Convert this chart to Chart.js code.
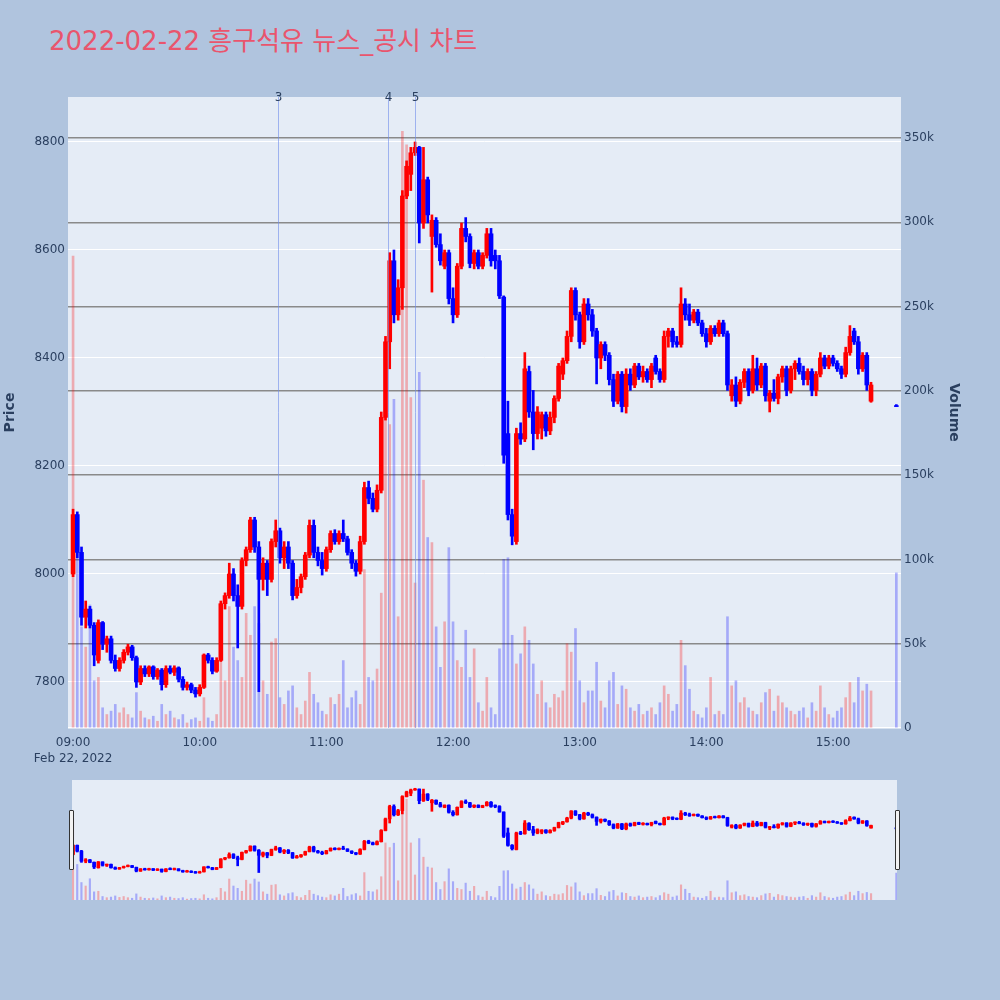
<!DOCTYPE html>
<html><head><meta charset="utf-8">
<script src="https://cdn.jsdelivr.net/npm/chart.js@4.4.1/dist/chart.umd.min.js"></script>
<style>
html,body{margin:0;padding:0;background:#b0c4de;width:1000px;height:1000px;overflow:hidden;}
#title{position:absolute;left:49px;top:26px;font-size:26px;line-height:30px;font-family:"DejaVu Sans","Noto Sans CJK KR",sans-serif;color:#e9556d;white-space:nowrap;}
#main{position:absolute;left:0;top:0;}
#slider{position:absolute;left:72px;top:780px;}
.handle{position:absolute;top:810px;width:3px;height:58px;background:#f2f2f2;border:1px solid #333;border-radius:1px;}
</style></head>
<body>
<div id="title">2022-02-22 흥구석유 뉴스_공시 차트</div>
<canvas id="main" width="962" height="780" style="width:962px;height:780px"></canvas>
<canvas id="slider" width="825" height="120" style="width:825px;height:120px"></canvas>
<div class="handle" style="left:69px"></div>
<div class="handle" style="left:895px"></div>
<script>
// ---- data ----
const times = [
"09:00","09:02","09:04","09:06","09:08","09:10","09:12","09:14","09:16","09:18",
"09:20","09:22","09:24","09:26","09:28","09:30","09:32","09:34","09:36","09:38",
"09:40","09:42","09:44","09:46","09:48","09:50","09:52","09:54","09:56","09:58",
"10:00","10:02","10:04","10:06","10:08","10:10","10:12","10:14","10:16","10:18",
"10:20","10:22","10:24","10:26","10:28","10:30","10:32","10:34","10:36","10:38",
"10:40","10:42","10:44","10:46","10:48","10:50","10:52","10:54","10:56","10:58",
"11:00","11:02","11:04","11:06","11:08","11:10","11:12","11:14","11:16","11:18",
"11:20","11:22","11:24","11:26","11:28","11:30","11:32","11:34","11:36","11:38",
"11:40","11:42","11:44","11:46","11:48","11:50","11:52","11:54","11:56","11:58",
"12:00","12:02","12:04","12:06","12:08","12:10","12:12","12:14","12:16","12:18",
"12:20","12:22","12:24","12:26","12:28","12:30","12:32","12:34","12:36","12:38",
"12:40","12:42","12:44","12:46","12:48","12:50","12:52","12:54","12:56","12:58",
"13:00","13:02","13:04","13:06","13:08","13:10","13:12","13:14","13:16","13:18",
"13:20","13:22","13:24","13:26","13:28","13:30","13:32","13:34","13:36","13:38",
"13:40","13:42","13:44","13:46","13:48","13:50","13:52","13:54","13:56","13:58",
"14:00","14:02","14:04","14:06","14:08","14:10","14:12","14:14","14:16","14:18",
"14:20","14:22","14:24","14:26","14:28","14:30","14:32","14:34","14:36","14:38",
"14:40","14:42","14:44","14:46","14:48","14:50","14:52","14:54","14:56","14:58",
"15:00","15:02","15:04","15:06","15:08","15:10","15:12","15:14","15:16","15:18",
"15:30"];
const open = [
8000,8110,8040,7920,7935,7905,7840,7910,7870,7880,
7840,7825,7840,7855,7865,7845,7800,7825,7815,7828,
7810,7822,7795,7825,7818,7826,7805,7790,7795,7785,
7778,7790,7850,7840,7820,7840,7945,7960,8000,7960,
7940,8025,8045,8100,8050,7990,8020,7990,8060,8080,
8030,8050,8020,7960,7975,7995,8035,8090,8040,8025,
8010,8045,8075,8060,8075,8065,8040,8020,8005,8060,
8160,8140,8120,8155,8290,8430,8580,8480,8530,8700,
8740,8780,8790,8650,8730,8625,8655,8610,8570,8595,
8510,8480,8570,8640,8625,8575,8595,8570,8590,8630,
8590,8580,8513,8260,8110,8060,8260,8250,8375,8300,
8260,8270,8295,8265,8290,8325,8370,8395,8440,8525,
8480,8430,8500,8480,8450,8400,8425,8405,8360,8320,
8370,8310,8370,8350,8385,8365,8375,8360,8400,8375,
8360,8440,8450,8430,8425,8500,8480,8470,8485,8465,
8445,8430,8455,8445,8465,8445,8330,8350,8320,8355,
8375,8340,8380,8350,8385,8320,8335,8325,8365,8380,
8340,8380,8390,8375,8360,8375,8340,8370,8400,8385,
8400,8390,8380,8370,8410,8450,8430,8380,8405,8320,
8310];
const high = [
8120,8115,8050,7950,7940,7910,7915,7912,7885,7885,
7850,7845,7860,7870,7868,7848,7830,7830,7830,7830,
7825,7825,7830,7830,7830,7828,7810,7800,7798,7790,
7795,7852,7853,7845,7845,7950,7965,8020,8010,7980,
8030,8050,8105,8105,8060,8030,8025,8065,8100,8085,
8060,8060,8025,7990,8000,8040,8100,8100,8050,8040,
8050,8080,8082,8080,8100,8070,8045,8025,8070,8170,
8172,8150,8165,8300,8440,8595,8600,8545,8710,8765,
8790,8800,8792,8790,8735,8665,8660,8630,8600,8600,
8530,8575,8650,8660,8630,8600,8600,8595,8640,8640,
8600,8590,8515,8320,8120,8270,8280,8410,8385,8340,
8310,8300,8300,8300,8330,8390,8400,8450,8530,8530,
8485,8510,8510,8490,8455,8430,8430,8410,8370,8375,
8375,8380,8380,8390,8390,8385,8380,8390,8405,8380,
8450,8455,8455,8440,8530,8510,8500,8490,8490,8470,
8455,8460,8460,8470,8470,8450,8360,8365,8360,8380,
8380,8405,8400,8390,8390,8340,8360,8370,8385,8385,
8385,8395,8400,8385,8380,8380,8375,8410,8405,8405,
8405,8395,8385,8420,8460,8455,8440,8410,8410,8355,
8310];
const low = [
7995,8030,7905,7900,7900,7830,7835,7860,7855,7835,
7820,7820,7835,7850,7840,7790,7795,7810,7810,7805,
7805,7785,7790,7815,7812,7800,7785,7785,7780,7772,
7774,7788,7835,7815,7818,7838,7935,7955,7950,7863,
7935,8015,8040,8040,7782,7970,7960,7985,8050,8020,
8010,8010,7952,7955,7965,7990,8030,8030,8015,7998,
8005,8040,8055,8055,8060,8035,8010,7996,8000,8055,
8130,8115,8115,8150,8285,8380,8465,8470,8490,8695,
8710,8775,8613,8640,8650,8522,8605,8572,8565,8500,
8465,8475,8565,8615,8567,8565,8565,8565,8585,8570,
8565,8510,8205,8100,8054,8055,8240,8245,8290,8230,
8250,8250,8255,8258,8280,8320,8360,8390,8430,8470,
8418,8425,8470,8440,8352,8380,8395,8350,8310,8315,
8300,8298,8340,8345,8360,8355,8355,8345,8370,8355,
8355,8420,8420,8420,8420,8470,8460,8465,8460,8440,
8420,8425,8440,8440,8440,8340,8320,8310,8315,8345,
8330,8335,8340,8345,8320,8300,8320,8315,8355,8330,
8335,8360,8370,8350,8350,8330,8330,8365,8380,8380,
8385,8375,8362,8365,8405,8425,8370,8375,8340,8318,
8310];
const close = [
8110,8040,7920,7935,7905,7850,7910,7870,7880,7840,
7825,7840,7855,7865,7845,7800,7825,7815,7828,7810,
7822,7795,7825,7818,7826,7805,7790,7795,7785,7778,
7790,7850,7840,7820,7840,7945,7960,8000,7960,7940,
8025,8045,8100,8050,7990,8020,7990,8060,8080,8030,
8050,8020,7960,7975,7995,8035,8090,8040,8025,8010,
8045,8075,8060,8075,8065,8040,8020,8005,8060,8160,
8140,8120,8155,8290,8430,8580,8480,8530,8700,8755,
8780,8790,8650,8730,8665,8655,8610,8580,8595,8510,
8480,8570,8640,8625,8575,8595,8570,8590,8630,8580,
8580,8515,8220,8110,8070,8260,8250,8380,8300,8260,
8300,8295,8265,8290,8325,8385,8395,8440,8525,8480,
8430,8500,8480,8450,8400,8425,8405,8360,8320,8370,
8310,8370,8350,8385,8365,8375,8360,8385,8375,8360,
8440,8450,8430,8425,8500,8480,8470,8485,8465,8445,
8430,8455,8445,8465,8445,8350,8350,8320,8355,8375,
8340,8380,8350,8385,8330,8335,8325,8365,8380,8340,
8380,8390,8375,8360,8375,8340,8370,8400,8385,8400,
8390,8380,8370,8410,8440,8430,8380,8405,8350,8350,
8310];
const volumeK = [
280,122,60,48,73,28,30,12,8,10,
14,9,12,8,6,21,10,6,5,7,
4,14,8,10,6,5,8,3,5,6,
4,18,6,4,8,40,28,72,48,40,
30,68,55,72,62,28,20,51,53,18,
14,22,25,12,8,16,33,20,15,10,
8,18,14,20,40,12,18,22,14,94,
30,28,35,80,196,180,195,66,354,346,
196,86,211,147,113,110,60,36,63,107,
63,40,36,58,30,47,15,10,30,12,
8,47,100,101,55,38,44,60,52,38,
20,28,15,12,20,18,22,50,45,59,
28,15,22,22,39,16,12,28,33,14,
25,23,12,10,14,8,10,12,8,15,
25,20,10,14,52,37,23,10,8,6,
12,30,8,10,8,66,25,28,15,18,
12,10,8,15,21,23,10,19,15,12,
10,8,10,12,6,15,10,25,12,8,
6,10,12,18,27,15,30,22,26,22,
92];
const priceTicks = [7800, 8000, 8200, 8400, 8600, 8800];
const volumeTicks = [0, 50, 100, 150, 200, 250, 300, 350];
const volumeTickLabels = ["0", "50k", "100k", "150k", "200k", "250k", "300k", "350k"];
const timeTicks = ["09:00", "10:00", "11:00", "12:00", "13:00", "14:00", "15:00"];
const dateLabel = "Feb 22, 2022";
const newsTimes = ["10:37", "11:29", "11:42"];
const newsLabels = ["3", "4", "5"];

// ---- helpers ----
const FONT = "'DejaVu Sans', 'Noto Sans CJK KR', sans-serif";
const TXT = '#2a3f5f';
const RED = '#ff0000', BLUE = '#0000ff';
const toMin = s => { const p = s.split(':').map(Number); return (p[0] - 9) * 60 + p[1]; };
const tx = times.map(toMin);
const isUp = i => close[i] > open[i];

function makeSets(bodyW, wickW, volW) {
  return [
    { type: 'bar', label: 'body', yAxisID: 'y', order: 1, grouped: false,
      data: tx.map((x, i) => ({ x: x, y: [open[i], close[i]] })),
      backgroundColor: c => isUp(c.dataIndex) ? RED : BLUE,
      barThickness: bodyW, minBarLength: 1 },
    { type: 'bar', label: 'wick', yAxisID: 'y', order: 2, grouped: false,
      data: tx.map((x, i) => ({ x: x, y: [low[i], high[i]] })),
      backgroundColor: c => isUp(c.dataIndex) ? RED : BLUE,
      barThickness: wickW, minBarLength: 2 },
    { type: 'bar', label: 'volume', yAxisID: 'yv', order: 3, grouped: false,
      data: tx.map((x, i) => ({ x: x, y: volumeK[i] })),
      backgroundColor: c => isUp(c.dataIndex) ? 'rgba(255,0,0,0.28)' : 'rgba(0,0,255,0.28)',
      barThickness: volW }
  ];
}

const bgPlugin = { id: 'plotbg', beforeDraw(c) {
  const a = c.chartArea, ctx = c.ctx;
  ctx.save(); ctx.fillStyle = '#e5ecf6';
  ctx.fillRect(a.left, a.top, a.right - a.left, a.bottom - a.top); ctx.restore();
}};

const newsPlugin = { id: 'news', afterDatasetsDraw(c) {
  const a = c.chartArea, ctx = c.ctx, xs = c.scales.x;
  ctx.save();
  newsTimes.forEach((t, i) => {
    const px = Math.round(xs.getPixelForValue(toMin(t))) + 0.5;
    ctx.strokeStyle = 'rgba(110,140,235,0.6)'; ctx.lineWidth = 1;
    ctx.beginPath(); ctx.moveTo(px, a.top); ctx.lineTo(px, a.bottom); ctx.stroke();
    ctx.fillStyle = TXT; ctx.font = '12px ' + FONT;
    ctx.textAlign = 'center'; ctx.textBaseline = 'alphabetic';
    ctx.fillText(newsLabels[i], px, a.top + 4);
  });
  ctx.restore();
}};

const tickFont = { family: FONT, size: 12 };

new Chart(document.getElementById('main'), {
  type: 'bar',
  data: { datasets: makeSets(4, 2, 2) },
  options: {
    responsive: false, animation: false, events: [],
    layout: { padding: { top: 97, left: 0, right: 0, bottom: 0 } },
    plugins: { legend: { display: false }, tooltip: { enabled: false } },
    scales: {
      x: { type: 'linear', min: -2.4, max: 392.2, offset: false,
        grid: { display: false, drawTicks: false, offset: false }, border: { display: false },
        afterBuildTicks: s => { s.ticks = timeTicks.map(t => ({ value: toMin(t) })); },
        afterFit: s => { s.height = 52; },
        ticks: { padding: 7, color: TXT, font: { family: FONT, size: 12, lineHeight: 1.35 },
          maxRotation: 0, autoSkip: false,
          callback: (v, i) => i === 0 ? [timeTicks[0], dateLabel] : timeTicks[i] } },
      y: { type: 'linear', position: 'left', min: 7714.8, max: 8883.3,
        grid: { color: '#ffffff', lineWidth: 1, drawTicks: false }, border: { display: false },
        afterBuildTicks: s => { s.ticks = priceTicks.map(v => ({ value: v })); },
        afterFit: s => { s.width = 68; },
        ticks: { padding: 3, color: TXT, font: tickFont, callback: v => String(v) },
        title: { display: true, text: 'Price', color: TXT,
          font: { family: FONT, size: 14, weight: 'bold' }, padding: { top: 2, bottom: 0 } } },
      yv: { type: 'linear', position: 'right', min: 0, max: 374.3,
        grid: { color: c => (c.tick && c.tick.value === 0) ? '#ffffff' : '#8a8a8a',
          lineWidth: 1.5, drawTicks: false }, border: { display: false },
        afterBuildTicks: s => { s.ticks = volumeTicks.map(v => ({ value: v })); },
        afterFit: s => { s.width = 61; },
        ticks: { padding: 3, color: TXT, font: tickFont, callback: (v, i) => volumeTickLabels[i] },
        title: { display: true, text: 'Volume', color: TXT,
          font: { family: FONT, size: 14, weight: 'bold' }, padding: { top: 0, bottom: 0 } } }
    }
  },
  plugins: [bgPlugin, newsPlugin]
});

new Chart(document.getElementById('slider'), {
  type: 'bar',
  data: { datasets: makeSets(3, 2, 1.5) },
  options: {
    responsive: false, animation: false, events: [],
    layout: { padding: 0 },
    plugins: { legend: { display: false }, tooltip: { enabled: false } },
    scales: {
      x: { type: 'linear', display: false, min: -0.47, max: 390.3, offset: false },
      y: { type: 'linear', display: false, min: 7450, max: 8900 },
      yv: { type: 'linear', display: false, min: 0, max: 412 }
    }
  },
  plugins: [bgPlugin]
});
</script>
</body></html>
